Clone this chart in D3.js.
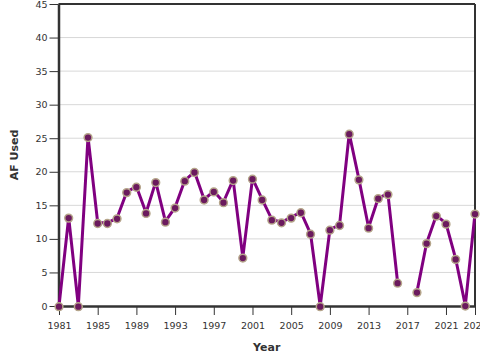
<!DOCTYPE html>
<html><head><meta charset="utf-8">
<script src="https://cdn.jsdelivr.net/npm/d3@7"></script>
<style>body{margin:0;background:#fff}svg{display:block}</style>
</head><body>
<svg id="c" width="480" height="360"></svg>
<script>
const years = [1981,1982,1983,1984,1985,1986,1987,1988,1989,1990,1991,1992,1993,1994,1995,1996,1997,1998,1999,2000,2001,2002,2003,2004,2005,2006,2007,2008,2009,2010,2011,2012,2013,2014,2015,2016,2017,2018,2019,2020,2021,2022,2023,2024];
const afUsed = [0,13.2,0,25.2,12.4,12.4,13.1,17.0,17.8,13.9,18.5,12.6,14.7,18.7,20.0,15.9,17.1,15.5,18.8,7.25,19.0,15.9,12.9,12.5,13.2,14.0,10.8,0,11.4,12.1,25.7,18.9,11.7,16.1,16.7,3.5,null,2.1,9.4,13.5,12.3,7.05,0.1,13.8];
const xTicks = [1981,1985,1989,1993,1997,2001,2005,2009,2013,2017,2021,2024];
const yTicks = [0,5,10,15,20,25,30,35,40,45];

const svg = d3.select("#c");
const L=58.5, R=475, T=4, B=306;
const x = d3.scaleLinear().domain([1981,2024]).range([L+0.5,R]);
const y = d3.scaleLinear().domain([0,45]).range([B,T]);
const data = years.map((yr,i)=>({yr, v:afUsed[i]}));
const font = "DejaVu Sans, Verdana, sans-serif";

// grid
svg.append("g").selectAll("line").data(yTicks.filter(d=>d>0)).join("line")
  .attr("x1",L).attr("x2",R).attr("y1",d=>y(d)).attr("y2",d=>y(d))
  .attr("stroke","#d8d8d8").attr("stroke-width",1);

// frame top/right
svg.append("line").attr("x1",L).attr("x2",R).attr("y1",T).attr("y2",T).attr("stroke","#333").attr("stroke-width",2);
svg.append("line").attr("x1",R).attr("x2",R).attr("y1",T).attr("y2",B).attr("stroke","#333").attr("stroke-width",2);

const yAxis = svg.append("g").attr("transform",`translate(${L},0)`)
  .call(d3.axisLeft(y).tickValues(yTicks).tickSize(9).tickPadding(2).tickSizeOuter(0));
const xAxis = svg.append("g").attr("transform",`translate(0,${B})`)
  .call(d3.axisBottom(x).tickValues(xTicks).tickFormat(d3.format("d")).tickSize(9).tickPadding(7).tickSizeOuter(0));
[yAxis,xAxis].forEach(a=>{
  a.select(".domain").attr("stroke","#333").attr("stroke-width",2.5);
  a.selectAll(".tick line").attr("stroke","#333").attr("stroke-width",1);
  a.selectAll(".tick text").attr("fill","#333").style("font-family",font).style("font-size","9.5px");
});

// line
const line = d3.line().defined(d=>d.v!==null).x(d=>x(d.yr)).y(d=>y(d.v));
svg.append("path").datum(data).attr("d",line).attr("fill","none")
  .attr("stroke","#800080").attr("stroke-width",3).attr("stroke-linejoin","round");

svg.append("g").selectAll("circle").data(data.filter(d=>d.v!==null)).join("circle")
  .attr("cx",d=>x(d.yr)).attr("cy",d=>y(d.v)+0.7).attr("r",3.9)
  .attr("fill","#6b1a5e").attr("stroke","#b5a58a").attr("stroke-width",1.5);

// titles
svg.append("text").attr("x",(L+R)/2).attr("y",351).attr("text-anchor","middle")
  .style("font-family",font).style("font-size","11px").style("font-weight","bold").attr("fill","#333").text("Year");
svg.append("text").attr("transform",`translate(18,155) rotate(-90)`).attr("text-anchor","middle")
  .style("font-family",font).style("font-size","11px").style("font-weight","bold").attr("fill","#333").text("AF Used");
</script>
</body></html>
